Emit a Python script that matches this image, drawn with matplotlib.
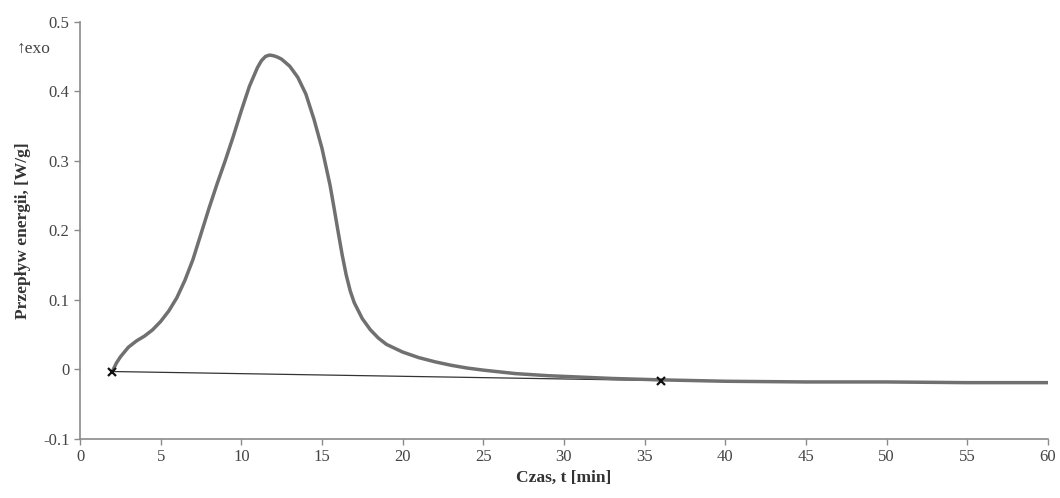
import matplotlib
matplotlib.use("Agg")
import matplotlib.pyplot as plt

# DSC curve
czas = [2.0, 2.25, 2.5, 3.0, 3.5, 4.0, 4.5, 5.0, 5.5, 6.0, 6.5, 7.0, 7.5, 8.0, 8.5,
        9.0, 9.5, 10.0, 10.5, 11.0, 11.25, 11.5, 11.75, 12.0, 12.25, 12.5, 13.0,
        13.5, 14.0, 14.5, 15.0, 15.5, 15.75, 16.0, 16.25, 16.5, 16.75, 17.0, 17.5,
        18.0, 18.5, 19.0, 20.0, 21.0, 22.0, 23.0, 24.0, 25.0, 27.0, 29.0, 31.0,
        33.0, 36.0, 40.0, 45.0, 50.0, 55.0, 60.0]
przeplyw = [-0.003, 0.009, 0.018, 0.032, 0.041, 0.048, 0.057, 0.069, 0.084, 0.103,
            0.128, 0.158, 0.195, 0.232, 0.267, 0.300, 0.335, 0.372, 0.407, 0.434,
            0.444, 0.450, 0.452, 0.451, 0.449, 0.446, 0.436, 0.420, 0.396, 0.360,
            0.318, 0.265, 0.232, 0.198, 0.165, 0.136, 0.113, 0.096, 0.073, 0.057,
            0.045, 0.036, 0.025, 0.017, 0.011, 0.006, 0.002, -0.001, -0.006, -0.009,
            -0.011, -0.013, -0.015, -0.017, -0.018, -0.018, -0.019, -0.019]

# baseline between the two integration points
baza_t = [2.0, 36.0]
baza_v = [-0.003, -0.016]

serif = ["Liberation Serif", "DejaVu Serif"]
plt.rcParams["font.family"] = serif

fig = plt.figure(figsize=(10.6, 4.98), dpi=100)
ax = fig.add_axes([0.0755, 0.1185, 0.913, 0.838])

ax.plot(czas, przeplyw, color="#707070", lw=2.5, solid_capstyle="round",
        solid_joinstyle="round", zorder=3)
ax.plot(baza_t, baza_v, color="#333333", lw=0.9, zorder=2)
ax.plot(baza_t, baza_v, ls="none", marker="x", color="#111111", ms=6, mew=1.6, zorder=4)

ax.set_xlim(0, 60)
ax.set_ylim(-0.1, 0.5)
ax.set_xticks(range(0, 61, 5))
ax.set_yticks([-0.1, 0, 0.1, 0.2, 0.3, 0.4, 0.5])
ax.set_yticklabels(["-0.1", "0", "0.1", "0.2", "0.3", "0.4", "0.5"])

for s in ["top", "right"]:
    ax.spines[s].set_visible(False)
for s in ["left", "bottom"]:
    ax.spines[s].set_color("#8a8a8a")
    ax.spines[s].set_linewidth(1.2)
ax.tick_params(colors="#8a8a8a", labelcolor="#444444", labelsize=12, length=4, width=1)

ax.set_xlabel("Czas, t [min]", fontsize=12.5, fontweight="bold", color="#333333", labelpad=3)
ax.set_ylabel("Przepływ energii, [W/g]", fontsize=12.5, fontweight="bold", color="#333333", labelpad=9)

fig.text(0.016, 0.893, "↑exo", fontsize=12.5, color="#444444", family=serif)

fig.savefig("out.png", dpi=100)
